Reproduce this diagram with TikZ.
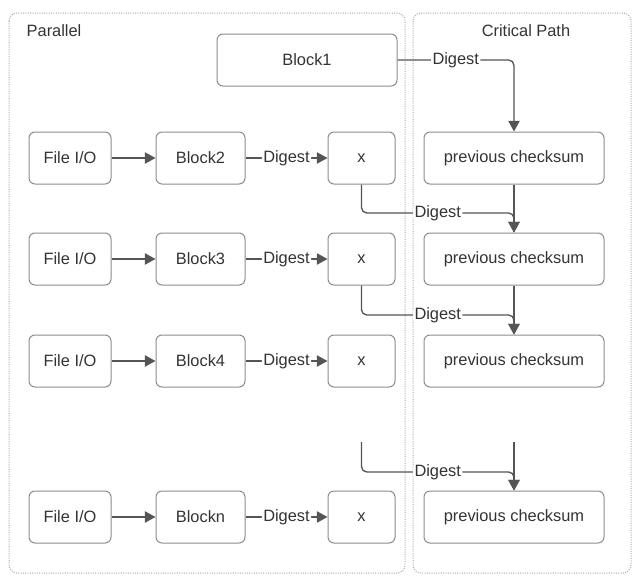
\documentclass[tikz,border=0pt]{standalone}
\usepackage{fontspec}
\setmainfont{Liberation Sans}
\usetikzlibrary{arrows.meta}
\definecolor{linegray}{HTML}{555555}
\definecolor{boxgray}{HTML}{8C8C8C}
\definecolor{textgray}{HTML}{333333}
\definecolor{framegray}{HTML}{A8A8A8}

\begin{document}
\begin{tikzpicture}[x=0.75pt,y=-0.75pt,
    font=\fontsize{12.3}{14}\selectfont, text=textgray,
    box/.style={draw=boxgray, line width=0.75pt, rounded corners=4.5pt, minimum height=39pt, inner sep=0pt},
    lane/.style={draw=framegray, densely dotted, line width=0.75pt, rounded corners=6pt},
    flow/.style={draw=linegray, line width=1pt, rounded corners=4pt, -{Triangle[length=8pt,width=8.5pt]}},
    tag/.style={fill=white, inner sep=1pt}]
        \useasboundingbox (0,0) rectangle (644,578);

        % Lanes
        \draw[lane] (9,13) rectangle (405,573);
        \draw[lane] (413,13) rectangle (631,573);
        \node[anchor=west] (parlabel) at (22,31) {Parallel};
        \node (critlabel) at (526,31) {Critical Path};

        % First block
        \node[box, minimum width=135pt] (blk1) at (307,60) {Block1};

        % Rows
        \foreach \y/\n in {158/2, 259/3, 361/4, 517/n} {
            \node[box, minimum width=61.5pt] (fio\n) at (70,\y) {File I/O};
            \node[box, minimum width=66.75pt] (blk\n) at (200.5,\y) {Block\n};
            \node[box, minimum width=50.25pt] (x\n) at (361.5,\y) {x};
            \node[box, minimum width=135pt] (chk\n) at (514,\y) {previous checksum};
            \draw[flow] (fio\n) -- (blk\n);
            \draw[flow] (blk\n) -- node[tag] {Digest} (x\n);
        }

        % Critical path
        \coordinate (m3) at (514,213);
        \coordinate (m4) at (514,315);
        \coordinate (mn) at (514,472);
        \coordinate (xtail) at (361.5,442);
        \coordinate (chktail) at (514,442);
        \draw[flow] (blk1.east) -| node[tag, pos=0.25] {Digest} (chk2.north);
        \draw[flow] (chk2) -- (chk3);
        \draw[flow] (x2.south) |- node[tag, pos=0.75] {Digest} (m3) -- (chk3.north);
        \draw[flow] (chk3) -- (chk4);
        \draw[flow] (x3.south) |- node[tag, pos=0.75] {Digest} (m4) -- (chk4.north);
        \draw[flow] (chktail) -- (chkn.north);
        \draw[flow] (xtail) |- node[tag, pos=0.75] {Digest} (mn) -- (chkn.north);
    \end{tikzpicture}
\end{document}
